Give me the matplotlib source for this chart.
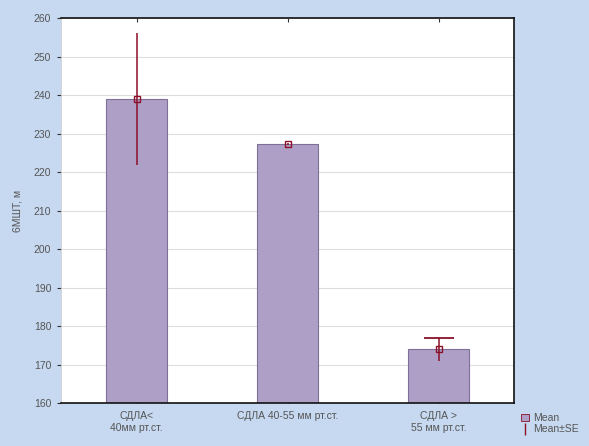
import matplotlib
matplotlib.use("Agg")
import matplotlib.pyplot as plt
import numpy as np
from matplotlib.patches import Patch
from matplotlib.lines import Line2D

plt.rcParams['font.family'] = ['Liberation Sans', 'DejaVu Sans']

categories = ["СДЛА<\n40мм рт.ст.", "СДЛА 40-55 мм рт.ст.", "СДЛА >\n55 мм рт.ст."]
means = [239.0, 227.3, 174.0]
se_low = [17.3, 0.3, 3.0]
se_high = [17.0, 0.3, 2.9]
yticks = [160, 170, 180, 190, 200, 210, 220, 230, 240, 250, 260]

bg = '#c6d9f0'
bar_color = '#ae9fc7'
bar_edge = '#7f6f98'
err_color = '#8c1028'

fig = plt.figure(figsize=(5.89, 4.46), dpi=100, facecolor=bg)
ax = fig.add_axes([0.1036, 0.0964, 0.8727 - 0.1036, 0.9596 - 0.0964])
ax.set_facecolor('white')

x = np.arange(len(categories)) + 0.5
ax.bar(x, means, width=0.405, bottom=0, color=bar_color, edgecolor=bar_edge,
       linewidth=0.8, zorder=2)
ax.errorbar(x, means, yerr=[se_low, se_high], fmt='none', ecolor=err_color,
            elinewidth=1.1, capsize=0, zorder=3)
ax.plot(x, means, linestyle='none', marker='s', markersize=4.5,
        markerfacecolor='none', markeredgecolor=err_color, markeredgewidth=1.0, zorder=4)
# upper cap of last error bar
ax.plot([x[2]], [means[2] + se_high[2]], linestyle='none', marker='_',
        markersize=22, markeredgewidth=1.3, color=err_color, zorder=4)

ax.set_xlim(0, 3)
ax.set_ylim(160, 260)
ax.set_yticks(yticks)
ax.set_yticklabels([str(t) for t in yticks], fontsize=7.5, color='#555555')
ax.set_xticks(x)
ax.set_xticklabels(categories, fontsize=7.5, color='#555555', va='top')
ax.yaxis.grid(True, color='#dddddd', linewidth=0.8, zorder=0)
ax.set_axisbelow(True)
ax.tick_params(axis='y', length=3, width=0.8, color='#333333', pad=4)
ax.tick_params(axis='x', length=3, width=0.8, color='#333333', direction='in', pad=6,
               top=True)

for side in ['top', 'bottom', 'right']:
    ax.spines[side].set_color('#111111')
    ax.spines[side].set_linewidth(1.2)
ax.spines['left'].set_color('#cccccc')
ax.spines['left'].set_linewidth(0.6)

ax.set_ylabel("6МШТ, м", fontsize=7.5, color='#555555', labelpad=8)

handles = [Patch(facecolor=bar_color, edgecolor=err_color, linewidth=0.6),
           Line2D([0], [0], color=err_color, linestyle='none', marker='|', markersize=8)]
fig.legend(handles, ['Mean', 'Mean±SE'], loc='lower left', bbox_to_anchor=(0.872, 0.01),
           frameon=False, fontsize=7.5, handlelength=0.8, handletextpad=0.4,
           labelspacing=0.1, borderpad=0.2, labelcolor='#555555')

fig.savefig('out.png', dpi=100, facecolor=bg)
